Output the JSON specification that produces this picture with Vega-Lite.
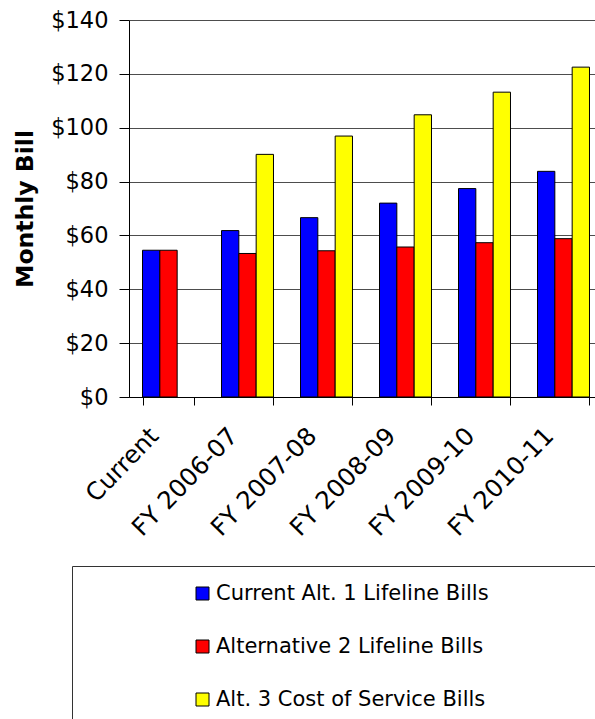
{
  "$schema": "https://vega.github.io/schema/vega-lite/v6.json",
  "autosize": {"type": "none"},
  "padding": {"left": 129, "top": 20, "right": 0, "bottom": 322},
  "width": 474,
  "height": 377,
  "background": "white",
  "data": {
    "values": [
      {"period": "Current", "series": "Current Alt. 1 Lifeline Bills", "bill": 54.5},
      {"period": "Current", "series": "Alternative 2 Lifeline Bills", "bill": 54.5},
      {"period": "FY 2006-07", "series": "Current Alt. 1 Lifeline Bills", "bill": 61.8},
      {"period": "FY 2006-07", "series": "Alternative 2 Lifeline Bills", "bill": 53.3},
      {"period": "FY 2006-07", "series": "Alt. 3 Cost of Service Bills", "bill": 90.1},
      {"period": "FY 2007-08", "series": "Current Alt. 1 Lifeline Bills", "bill": 66.6},
      {"period": "FY 2007-08", "series": "Alternative 2 Lifeline Bills", "bill": 54.3},
      {"period": "FY 2007-08", "series": "Alt. 3 Cost of Service Bills", "bill": 96.9},
      {"period": "FY 2008-09", "series": "Current Alt. 1 Lifeline Bills", "bill": 72.0},
      {"period": "FY 2008-09", "series": "Alternative 2 Lifeline Bills", "bill": 55.7},
      {"period": "FY 2008-09", "series": "Alt. 3 Cost of Service Bills", "bill": 104.8},
      {"period": "FY 2009-10", "series": "Current Alt. 1 Lifeline Bills", "bill": 77.4},
      {"period": "FY 2009-10", "series": "Alternative 2 Lifeline Bills", "bill": 57.3},
      {"period": "FY 2009-10", "series": "Alt. 3 Cost of Service Bills", "bill": 113.2},
      {"period": "FY 2010-11", "series": "Current Alt. 1 Lifeline Bills", "bill": 83.8},
      {"period": "FY 2010-11", "series": "Alternative 2 Lifeline Bills", "bill": 58.8},
      {"period": "FY 2010-11", "series": "Alt. 3 Cost of Service Bills", "bill": 122.5}
    ]
  },
  "mark": {"type": "bar", "stroke": "black", "strokeWidth": 1},
  "encoding": {
    "x": {
      "field": "period",
      "type": "nominal",
      "sort": null,
      "scale": {"paddingInner": 0.342, "paddingOuter": 0.171},
      "axis": {
        "title": null,
        "tickBand": "extent",
        "tickSize": 8,
        "tickColor": "black",
        "domainColor": "black",
        "labelAngle": -46,
        "labelAlign": "right",
        "labelBaseline": "middle",
        "labelPadding": 27,
        "labelOffset": -14,
        "labelFontSize": 24.5,
        "labelFont": "DejaVu Sans",
        "labelColor": "black"
      }
    },
    "xOffset": {
      "field": "series",
      "type": "nominal",
      "scale": {
        "domain": ["Current Alt. 1 Lifeline Bills", "Alternative 2 Lifeline Bills", "Alt. 3 Cost of Service Bills"],
        "paddingInner": 0,
        "paddingOuter": 0
      }
    },
    "y": {
      "field": "bill",
      "type": "quantitative",
      "scale": {"domain": [0, 140], "nice": false},
      "axis": {
        "title": "Monthly Bill",
        "titleFont": "DejaVu Sans",
        "titleFontSize": 23.5,
        "titleFontWeight": "bold",
        "titleColor": "black",
        "titlePadding": 13,
        "values": [0, 20, 40, 60, 80, 100, 120, 140],
        "format": "$.0f",
        "labelFont": "DejaVu Sans",
        "labelFontSize": 22.5,
        "labelColor": "black",
        "labelPadding": 11,
        "tickSize": 10,
        "tickColor": "black",
        "domainColor": "black",
        "grid": true,
        "gridColor": "#4d4d4d",
        "gridWidth": 1
      }
    },
    "color": {
      "field": "series",
      "type": "nominal",
      "scale": {
        "domain": ["Current Alt. 1 Lifeline Bills", "Alternative 2 Lifeline Bills", "Alt. 3 Cost of Service Bills"],
        "range": ["#0000ff", "#ff0000", "#ffff00"]
      },
      "legend": {
        "title": " ",
        "titleOrient": "right",
        "titlePadding": 160,
        "titleFontSize": 10,
        "orient": "none",
        "legendX": -57,
        "legendY": 546,
        "direction": "vertical",
        "padding": 17,
        "rowPadding": 31,
        "strokeColor": "#333333",
        "symbolType": "square",
        "symbolSize": 169,
        "symbolStrokeColor": "black",
        "symbolStrokeWidth": 1,
        "symbolOpacity": 1,
        "symbolOffset": 103,
        "labelOffset": 3,
        "labelFont": "DejaVu Sans",
        "labelFontSize": 21,
        "labelColor": "black",
        "labelLimit": 1000
      }
    }
  },
  "config": {
    "view": {"stroke": null},
    "axis": {"domainWidth": 1, "tickWidth": 1}
  }
}
